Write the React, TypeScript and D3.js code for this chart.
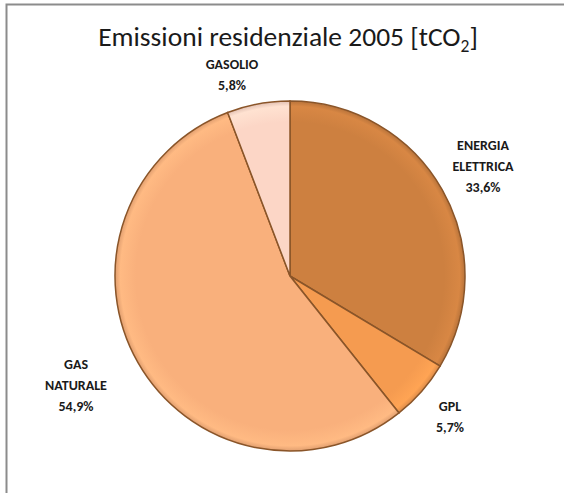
import React from "react";
import * as d3 from "d3";

const categories = ["ENERGIA ELETTRICA", "GPL", "GAS NATURALE", "GASOLIO"];
const values = [33.6, 5.7, 54.9, 5.8];
const labelLines = [["ENERGIA", "ELETTRICA", "33,6%"], ["GPL", "5,7%"], ["GAS", "NATURALE", "54,9%"], ["GASOLIO", "5,8%"]];
const colors = ["#CD8040", "#F59B50", "#F9B07C", "#FCD6C6"];
const title = "Emissioni residenziale 2005 [tCO";

const W = 564, H = 493;
const cx = 290, cy = 276, R = 175;
const labelPos: [number, number][] = [[483, 166], [450, 416], [76, 385], [232, 74]];

export default function App() {
  const pie = d3.pie<number>().sort(null).value((d) => d);
  const arcs = pie(values);
  const arc = d3.arc<d3.PieArcDatum<number>>().innerRadius(0).outerRadius(R);
  const font = "Carlito, Lato, 'Open Sans', 'Liberation Sans', sans-serif";
  return (
    <svg width={W} height={H} style={{ position: "absolute", left: 0, top: 0, background: "#fff" }}>
      <defs>
        {colors.map((c, i) => (
          <radialGradient key={i} id={`g${i}`} cx={0} cy={0} r={R} gradientUnits="userSpaceOnUse">
            <stop offset="0%" stopColor={c} />
            <stop offset="88%" stopColor={c} />
            <stop offset="97%" stopColor={d3.color(c)!.brighter(0.15).formatHex()} />
            <stop offset="100%" stopColor={d3.color(c)!.darker(0.3).formatHex()} />
          </radialGradient>
        ))}
      </defs>
      <rect x={6.5} y={4.5} width={W + 10} height={H + 10} fill="#fff" stroke="#8c8c8c" strokeWidth={2} />
      <text x={288} y={46} textAnchor="middle" fontFamily={font} fontSize={27.5} fill="#1a1a1a">
        {title}
        <tspan fontSize={17.5} dy={6}>2</tspan>
        <tspan dy={-6}>]</tspan>
      </text>
      <g transform={`translate(${cx},${cy})`}>
        {arcs.map((a, i) => (
          <path key={i} d={arc(a) || ""} fill={`url(#g${i})`} stroke="#8A5529" strokeWidth={1.5} />
        ))}
      </g>
      {labelLines.map((lines, i) => {
        const [lx, ly] = labelPos[i];
        const n = lines.length;
        return (
          <text key={i} x={lx} textAnchor="middle" fontFamily={font} fontWeight="bold" fontSize={14} fill="#1a1a1a">
            {lines.map((l, j) => (
              <tspan key={j} x={lx} y={ly + (j - (n - 1) / 2) * 21 + 5}>{l}</tspan>
            ))}
          </text>
        );
      })}
    </svg>
  );
}
